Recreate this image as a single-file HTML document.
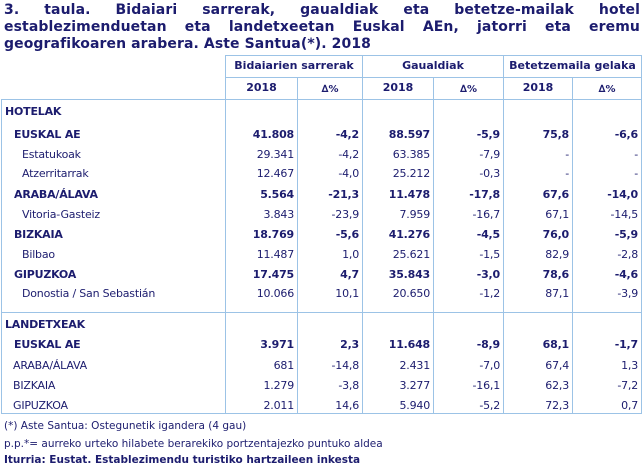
<!DOCTYPE html>
<html><head><meta charset="utf-8">
<style>
body{margin:0;width:643px;height:471px;background:#fff;position:relative;overflow:hidden;font-family:"DejaVu Sans","Liberation Sans",sans-serif;color:#1c1c6e;}
.t{position:absolute;left:4px;width:636px;font:bold 14px/17px "DejaVu Sans",sans-serif;white-space:nowrap;letter-spacing:0.1px}
.j{text-align:justify;text-align-last:justify;white-space:normal}
.h{position:absolute;height:1px;background:#9cc3e6}
.v{position:absolute;width:1px;background:#9cc3e6}
.r{position:absolute;left:0;width:643px;height:16px;font-size:11px;line-height:16px;letter-spacing:-0.2px}
.r span{position:absolute;white-space:nowrap}
.b{font-weight:bold}
.c1{right:349px}.c2{right:284px}.c3{right:213px}.c4{right:143px}.c5{right:74px}.c6{right:5px}
.hd{position:absolute;font-weight:bold;font-size:11px;text-align:center;line-height:16px}
.f{position:absolute;left:4px;font-size:10.5px;line-height:14px;white-space:nowrap}
</style></head><body>
<div class="t j" style="top:2px">3. taula. Bidaiari sarrerak, gaualdiak eta betetze-mailak hotel</div>
<div class="t j" style="top:19px">establezimenduetan eta landetxeetan Euskal AEn, jatorri eta eremu</div>
<div class="t" style="top:36px">geografikoaren arabera. Aste Santua(*). 2018</div>

<div class="h" style="left:225px;width:417px;top:55px"></div>
<div class="h" style="left:225px;width:417px;top:77px"></div>
<div class="h" style="left:1px;width:641px;top:99px"></div>
<div class="h" style="left:1px;width:641px;top:312px"></div>
<div class="h" style="left:1px;width:641px;top:413px"></div>
<div class="v" style="left:1px;top:99px;height:315px"></div>
<div class="v" style="left:225px;top:55px;height:359px"></div>
<div class="v" style="left:297px;top:77px;height:337px"></div>
<div class="v" style="left:362px;top:55px;height:359px"></div>
<div class="v" style="left:433px;top:77px;height:337px"></div>
<div class="v" style="left:503px;top:55px;height:359px"></div>
<div class="v" style="left:572px;top:77px;height:337px"></div>
<div class="v" style="left:641px;top:55px;height:359px"></div>

<div class="hd" style="left:226px;width:136px;top:58px">Bidaiarien sarrerak</div>
<div class="hd" style="left:363px;width:140px;top:58px">Gaualdiak</div>
<div class="hd" style="left:504px;width:137px;top:58px">Betetzemaila gelaka</div>
<div class="hd" style="left:226px;width:71px;top:80px">2018</div>
<div class="hd" style="left:298px;width:64px;top:82px;font-size:10px">∆%</div>
<div class="hd" style="left:363px;width:70px;top:80px">2018</div>
<div class="hd" style="left:434px;width:69px;top:82px;font-size:10px">∆%</div>
<div class="hd" style="left:504px;width:68px;top:80px">2018</div>
<div class="hd" style="left:573px;width:68px;top:82px;font-size:10px">∆%</div>

<div class="r b" style="top:104px"><span style="left:5px">HOTELAK</span></div>
<div class="r b" style="top:127px"><span style="left:14px">EUSKAL AE</span><span class="c1">41.808</span><span class="c2">-4,2</span><span class="c3">88.597</span><span class="c4">-5,9</span><span class="c5">75,8</span><span class="c6">-6,6</span></div>
<div class="r" style="top:147px"><span style="left:22px">Estatukoak</span><span class="c1">29.341</span><span class="c2">-4,2</span><span class="c3">63.385</span><span class="c4">-7,9</span><span class="c5">-</span><span class="c6">-</span></div>
<div class="r" style="top:166px"><span style="left:22px">Atzerritarrak</span><span class="c1">12.467</span><span class="c2">-4,0</span><span class="c3">25.212</span><span class="c4">-0,3</span><span class="c5">-</span><span class="c6">-</span></div>
<div class="r b" style="top:187px"><span style="left:14px">ARABA/ÁLAVA</span><span class="c1">5.564</span><span class="c2">-21,3</span><span class="c3">11.478</span><span class="c4">-17,8</span><span class="c5">67,6</span><span class="c6">-14,0</span></div>
<div class="r" style="top:207px"><span style="left:22px">Vitoria-Gasteiz</span><span class="c1">3.843</span><span class="c2">-23,9</span><span class="c3">7.959</span><span class="c4">-16,7</span><span class="c5">67,1</span><span class="c6">-14,5</span></div>
<div class="r b" style="top:227px"><span style="left:14px">BIZKAIA</span><span class="c1">18.769</span><span class="c2">-5,6</span><span class="c3">41.276</span><span class="c4">-4,5</span><span class="c5">76,0</span><span class="c6">-5,9</span></div>
<div class="r" style="top:247px"><span style="left:22px">Bilbao</span><span class="c1">11.487</span><span class="c2">1,0</span><span class="c3">25.621</span><span class="c4">-1,5</span><span class="c5">82,9</span><span class="c6">-2,8</span></div>
<div class="r b" style="top:267px"><span style="left:14px">GIPUZKOA</span><span class="c1">17.475</span><span class="c2">4,7</span><span class="c3">35.843</span><span class="c4">-3,0</span><span class="c5">78,6</span><span class="c6">-4,6</span></div>
<div class="r" style="top:286px"><span style="left:22px">Donostia / San Sebastián</span><span class="c1">10.066</span><span class="c2">10,1</span><span class="c3">20.650</span><span class="c4">-1,2</span><span class="c5">87,1</span><span class="c6">-3,9</span></div>

<div class="r b" style="top:317px"><span style="left:5px">LANDETXEAK</span></div>
<div class="r b" style="top:337px"><span style="left:14px">EUSKAL AE</span><span class="c1">3.971</span><span class="c2">2,3</span><span class="c3">11.648</span><span class="c4">-8,9</span><span class="c5">68,1</span><span class="c6">-1,7</span></div>
<div class="r" style="top:358px"><span style="left:13px">ARABA/ÁLAVA</span><span class="c1">681</span><span class="c2">-14,8</span><span class="c3">2.431</span><span class="c4">-7,0</span><span class="c5">67,4</span><span class="c6">1,3</span></div>
<div class="r" style="top:378px"><span style="left:13px">BIZKAIA</span><span class="c1">1.279</span><span class="c2">-3,8</span><span class="c3">3.277</span><span class="c4">-16,1</span><span class="c5">62,3</span><span class="c6">-7,2</span></div>
<div class="r" style="top:398px"><span style="left:13px">GIPUZKOA</span><span class="c1">2.011</span><span class="c2">14,6</span><span class="c3">5.940</span><span class="c4">-5,2</span><span class="c5">72,3</span><span class="c6">0,7</span></div>

<div class="f" style="top:419px">(*) Aste Santua: Ostegunetik igandera (4 gau)</div>
<div class="f" style="top:437px">p.p.*= aurreko urteko hilabete berarekiko portzentajezko puntuko aldea</div>
<div class="f b" style="top:453px">Iturria: Eustat. Establezimendu turistiko hartzaileen inkesta</div>
</body></html>
